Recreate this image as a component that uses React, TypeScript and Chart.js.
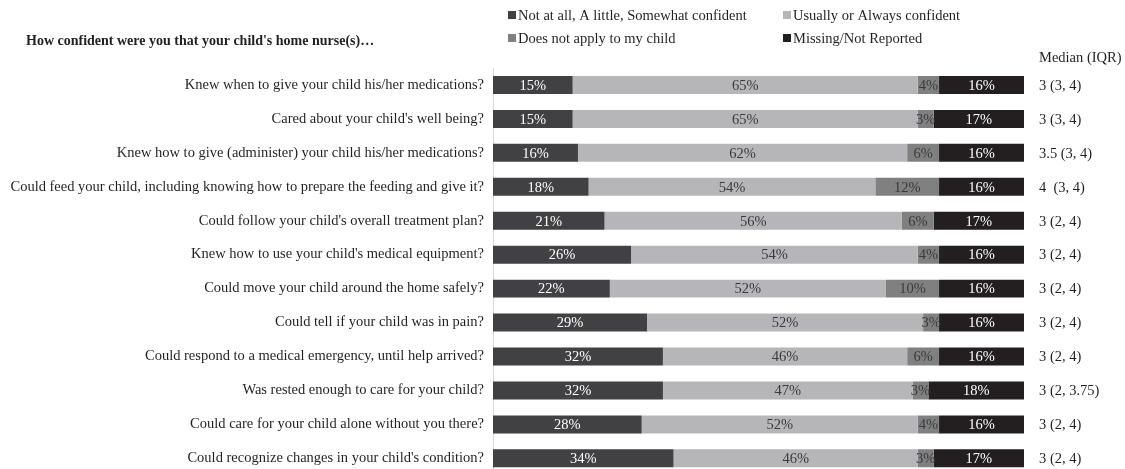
import React, { useEffect, useRef } from 'react';
import { Chart, registerables } from 'chart.js';

Chart.register(...registerables);

const questions = [
  'Knew when to give your child his/her medications?',
  "Cared about your child's well being?",
  'Knew how to give (administer) your child his/her medications?',
  'Could feed your child, including knowing how to prepare the feeding and give it?',
  "Could follow your child's overall treatment plan?",
  "Knew how to use your child's medical equipment?",
  'Could move your child around the home safely?',
  'Could tell if your child was in pain?',
  'Could respond to a medical emergency, until help arrived?',
  'Was rested enough to care for your child?',
  'Could care for your child alone without you there?',
  "Could recognize changes in your child's condition?",
];

const notConfident = [15, 15, 16, 18, 21, 26, 22, 29, 32, 32, 28, 34];
const usuallyAlways = [65, 65, 62, 54, 56, 54, 52, 52, 46, 47, 52, 46];
const notApply = [4, 3, 6, 12, 6, 4, 10, 3, 6, 3, 4, 3];
const missing = [16, 17, 16, 16, 17, 16, 16, 16, 16, 18, 16, 17];

const medians = [
  '3 (3, 4)',
  '3 (3, 4)',
  '3.5 (3, 4)',
  '4  (3, 4)',
  '3 (2, 4)',
  '3 (2, 4)',
  '3 (2, 4)',
  '3 (2, 4)',
  '3 (2, 4)',
  '3 (2, 3.75)',
  '3 (2, 4)',
  '3 (2, 4)',
];

const seriesNames = [
  'Not at all, A little, Somewhat confident',
  'Usually or Always confident',
  'Does not apply to my child',
  'Missing/Not Reported',
];
const seriesColors = ['#414042', '#b6b6b8', '#808081', '#231f20'];
const labelColors = ['#ffffff', '#3a3a3c', '#3a3a3c', '#ffffff'];

const titleText = "How confident were you that your child's home nurse(s)\u2026";
const medianHeader = 'Median (IQR)';

const FONT = '"Liberation Serif", "Times New Roman", serif';
const FS = 14.5;

const overlayPlugin = {
  id: 'overlay',
  afterDatasetsDraw(chart: any) {
    const ctx = chart.ctx;
    ctx.save();
    ctx.font = `${FS}px ${FONT}`;
    ctx.textAlign = 'center';
    ctx.textBaseline = 'middle';
    chart.data.datasets.forEach((ds: any, di: number) => {
      const meta = chart.getDatasetMeta(di);
      meta.data.forEach((el: any, i: number) => {
        const v = ds.data[i];
        const cx = (el.x + el.base) / 2;
        ctx.fillStyle = labelColors[di];
        ctx.fillText(v + '%', cx, el.y + 1);
      });
    });
    ctx.restore();
  },
  afterDraw(chart: any) {
    const ctx = chart.ctx;
    const yScale = chart.scales.y;
    ctx.save();
    // title
    ctx.font = `bold 14px ${FONT}`;
    ctx.fillStyle = '#231f20';
    ctx.textAlign = 'left';
    ctx.textBaseline = 'middle';
    ctx.fillText(titleText, 26, 41);

    // legend
    ctx.font = `${FS}px ${FONT}`;
    const legendPos = [
      [508, 15],
      [783, 15],
      [508, 38],
      [783, 38],
    ];
    [0, 1, 2, 3].forEach((si, k) => {
      const [lx, ly] = legendPos[k];
      ctx.fillStyle = seriesColors[si];
      ctx.fillRect(lx, ly - 4, 8, 8);
      ctx.fillStyle = '#231f20';
      ctx.fillText(seriesNames[si], lx + 10, ly + 1);
    });

    // median header and values
    ctx.fillText(medianHeader, 1039, 58);
    medians.forEach((m, i) => {
      const y = yScale.getPixelForValue(i);
      ctx.fillText(m, 1039, y + 1);
    });
    ctx.restore();
  },
};

export default function App() {
  const canvasRef = useRef<HTMLCanvasElement>(null);

  useEffect(() => {
    document.body.style.margin = '0';
    document.documentElement.style.overflow = 'hidden';
    const canvas = canvasRef.current;
    if (!canvas) return;
    const chart = new Chart(canvas, {
      type: 'bar',
      data: {
        labels: questions,
        datasets: [notConfident, usuallyAlways, notApply, missing].map((d, i) => ({
          label: seriesNames[i],
          data: d,
          backgroundColor: seriesColors[i],
          borderWidth: 0,
          categoryPercentage: 1,
          barPercentage: 0.53,
        })),
      },
      options: {
        indexAxis: 'y',
        animation: false,
        responsive: false,
        maintainAspectRatio: false,
        layout: { padding: { top: 68, right: 101, bottom: 0, left: 0 } },
        plugins: {
          legend: { display: false },
          tooltip: { enabled: false },
          title: { display: false },
        },
        scales: {
          x: {
            stacked: true,
            min: 0,
            max: 100,
            display: false,
          },
          y: {
            stacked: true,
            grid: { display: false, drawTicks: false },
            border: { display: true, color: '#d9d9d9', width: 1 },
            ticks: {
              font: { family: FONT, size: FS },
              color: '#231f20',
              padding: 9,
              autoSkip: false,
            },
            afterFit: (s: any) => {
              s.width = 493;
            },
          },
        },
      },
      plugins: [overlayPlugin],
    });
    return () => chart.destroy();
  }, []);

  return (
    <div style={{ position: 'fixed', left: 0, top: 0, width: 1125, height: 469, overflow: 'hidden', background: '#fff' }}>
      <canvas ref={canvasRef} width={1125} height={493} style={{ display: 'block' }} />
    </div>
  );
}
